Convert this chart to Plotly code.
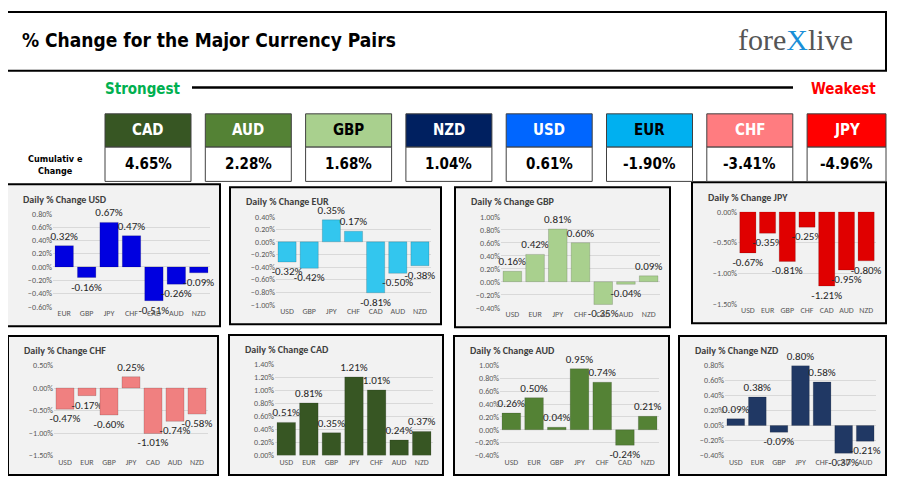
import plotly.graph_objects as go

W, H = 900, 493
OFF = 8  # page margin around the plot div

# cumulative strength table
rank_ccy = ['CAD', 'AUD', 'GBP', 'NZD', 'USD', 'EUR', 'CHF', 'JPY']
rank_val = [4.65, 2.28, 1.68, 1.04, 0.61, -1.90, -3.41, -4.96]
rank_col = ['#375623', '#548235', '#a9d08e', '#002060', '#0066ff', '#00b0f0', '#ff7c80', '#ff0000']
rank_txt = ['white', 'white', 'black', 'white', 'white', 'black', 'white', 'white']

# daily % change panels
usd_x = ['EUR', 'GBP', 'JPY', 'CHF', 'CAD', 'AUD', 'NZD']
usd_y = [0.32, -0.16, 0.67, 0.47, -0.51, -0.26, -0.09]
eur_x = ['USD', 'GBP', 'JPY', 'CHF', 'CAD', 'AUD', 'NZD']
eur_y = [-0.32, -0.42, 0.35, 0.17, -0.81, -0.50, -0.38]
gbp_x = ['USD', 'EUR', 'JPY', 'CHF', 'CAD', 'AUD', 'NZD']
gbp_y = [0.16, 0.42, 0.81, 0.60, -0.35, -0.04, 0.09]
jpy_x = ['USD', 'EUR', 'GBP', 'CHF', 'CAD', 'AUD', 'NZD']
jpy_y = [-0.67, -0.35, -0.81, -0.25, -1.21, -0.95, -0.80]
chf_x = ['USD', 'EUR', 'GBP', 'JPY', 'CAD', 'AUD', 'NZD']
chf_y = [-0.47, -0.17, -0.60, 0.25, -1.01, -0.74, -0.58]
cad_x = ['USD', 'EUR', 'GBP', 'JPY', 'CHF', 'AUD', 'NZD']
cad_y = [0.51, 0.81, 0.35, 1.21, 1.01, 0.24, 0.37]
aud_x = ['USD', 'EUR', 'GBP', 'JPY', 'CHF', 'CAD', 'NZD']
aud_y = [0.26, 0.50, 0.04, 0.95, 0.74, -0.24, 0.21]
nzd_x = ['USD', 'EUR', 'GBP', 'JPY', 'CHF', 'CAD', 'AUD']
nzd_y = [0.09, 0.38, -0.09, 0.80, 0.58, -0.37, -0.21]

# name, x, y, bar colour, box (px), y range, dtick
panels = [
    ('USD', usd_x, usd_y, '#0000e0', (7, 183, 220, 328), (-0.6, 0.8), 0.2),
    ('EUR', eur_x, eur_y, '#33c6ee', (230, 186, 441, 326), (-1.0, 0.4), 0.2),
    ('GBP', gbp_x, gbp_y, '#a9d08e', (455, 186, 670, 329), (-0.4, 1.0), 0.2),
    ('JPY', jpy_x, jpy_y, '#e00000', (692, 181, 886, 325), (-1.5, 0.0), 0.5),
    ('CHF', chf_x, chf_y, '#f08080', (8, 338, 218, 480), (-1.5, 0.5), 0.5),
    ('CAD', cad_x, cad_y, '#375623', (229, 337, 443, 480), (0.0, 1.4), 0.2),
    ('AUD', aud_x, aud_y, '#548235', (454, 338, 669, 480), (-0.4, 1.0), 0.2),
    ('NZD', nzd_x, nzd_y, '#203864', (679, 338, 886, 480), (-0.4, 0.8), 0.2),
]

FW, FH = W - 2 * OFF, H - 2 * OFF
NARROW = 'Liberation Sans Narrow, DejaVu Sans Condensed, Roboto Condensed, sans-serif'


def px(x):
    return (x - OFF) / FW


def py(y):
    return 1 - (y - OFF) / FH


def note(x, y, text, size, color='black', family=None, xa='center', **kw):
    f = dict(size=size, color=color)
    if family:
        f['family'] = family
    return dict(xref='paper', yref='paper', x=px(x), y=py(y), xanchor=xa, yanchor='middle',
                showarrow=False, text=text, font=f, **kw)


fig = go.Figure()
shapes, annos = [], []
layout_axes = {}

for i, (name, xs, ys, col, box, yr, dt) in enumerate(panels, 1):
    x0, y0, x1, y1 = box
    shapes.append(dict(type='rect', xref='paper', yref='paper', x0=px(x0), x1=px(x1),
                       y0=py(y1), y1=py(y0), line=dict(color='black', width=2),
                       fillcolor='#f2f2f2', layer='below'))
    annos.append(note(x0 + 14, y0 + 15, f'<b>Daily % Change {name}</b>', 10, '#404040', xa='left'))
    ax = '' if i == 1 else str(i)
    fig.add_trace(go.Bar(x=xs, y=ys, marker=dict(color=col, line=dict(color='rgba(0,0,0,0.3)', width=0.5)),
                         text=[f'{v:.2f}%' for v in ys], textposition='outside', cliponaxis=False,
                         constraintext='none', textfont=dict(size=11, color='#262626'), width=0.82,
                         xaxis='x' + ax, yaxis='y' + ax, showlegend=False))
    layout_axes['xaxis' + ax] = dict(domain=[px(x0 + 46), px(x1 - 10)], anchor='y' + ax,
                                     tickfont=dict(size=8, color='#595959'), showgrid=False,
                                     showline=False, ticks='', fixedrange=True)
    layout_axes['yaxis' + ax] = dict(domain=[py(y1 - 20), py(y0 + 30)], anchor='x' + ax,
                                     range=[yr[0], yr[1] + 0.001], dtick=dt, tickformat='.2f',
                                     ticksuffix='%', tickfont=dict(size=8, color='#595959'),
                                     gridcolor='#d9d9d9', zeroline=False, showline=False,
                                     fixedrange=True)

# header box
shapes.append(dict(type='rect', xref='paper', yref='paper', x0=px(6), x1=px(886), y0=py(67), y1=py(7),
                   line=dict(color='black', width=2), fillcolor='white'))
annos.append(note(20, 36, '<b>% Change for the Major Currency Pairs</b>', 19, family=NARROW, xa='left'))
annos.append(note(795, 35, "fore<span style='color:#1a8fd8'>X</span>live", 30, '#555555',
                  family='Liberation Serif, DejaVu Serif'))

# strongest / weakest line
annos.append(note(143, 86, '<b>Strongest</b>', 15, '#00b050', NARROW))
annos.append(note(843, 86, '<b>Weakest</b>', 15, '#ff0000', NARROW))
shapes.append(dict(type='line', xref='paper', yref='paper', x0=px(192), x1=px(793), y0=py(84), y1=py(84),
                   line=dict(color='black', width=2.5)))

annos.append(note(55, 163, '<b>Cumulativ e<br>Change</b>', 9, family=NARROW, align='center'))

for j, (c, v, bc, tc) in enumerate(zip(rank_ccy, rank_val, rank_col, rank_txt)):
    bx0 = 105 + j * 100.3
    bx1 = min(bx0 + 86, 886)
    shapes.append(dict(type='rect', xref='paper', yref='paper', x0=px(bx0), x1=px(bx1), y0=py(145), y1=py(111),
                       line=dict(color='#404040', width=1), fillcolor=bc))
    shapes.append(dict(type='rect', xref='paper', yref='paper', x0=px(bx0), x1=px(bx1), y0=py(180), y1=py(145),
                       line=dict(color='#404040', width=1), fillcolor='white'))
    annos.append(note((bx0 + bx1) / 2, 128, f'<b>{c}</b>', 15, tc, NARROW))
    annos.append(note((bx0 + bx1) / 2, 162, f'<b>{v:.2f}%</b>', 15, 'black', NARROW))

fig.update_layout(width=FW, height=FH, margin=dict(l=0, r=0, t=0, b=0), paper_bgcolor='white',
                  plot_bgcolor='rgba(0,0,0,0)', shapes=shapes, annotations=annos, bargap=0.2,
                  font=dict(family='Carlito, Liberation Sans, sans-serif'), **layout_axes)

fig.write_html('out.html')
